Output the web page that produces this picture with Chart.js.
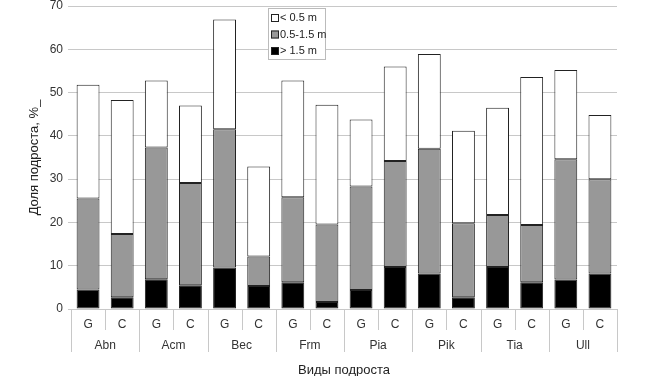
<!DOCTYPE html>
<html>
<head>
<meta charset="utf-8">
<script src="https://cdn.jsdelivr.net/npm/chart.js@4.4.1/dist/chart.umd.min.js"></script>
<style>
  html, body { margin: 0; padding: 0; background: #fff; }
  #wrap { width: 648px; height: 376px; }
</style>
</head>
<body>
<div id="wrap"><canvas id="chart" width="648" height="376"></canvas></div>
<script>
// ---- data ----
const species = ['Abn', 'Acm', 'Bec', 'Frm', 'Pia', 'Pik', 'Tia', 'Ull'];
const plots = ['G', 'C'];
const labels = species.flatMap(s => plots.map(p => p));

const high   = [4.5, 2.7, 6.9, 5.5, 9.6, 5.3, 6.2, 1.6, 4.4, 9.7, 8.2, 2.7, 9.7, 6.2, 6.8, 8.2];   // > 1.5 m
const middle = [21.0, 14.6, 30.4, 23.6, 31.9, 6.8, 19.6, 17.9, 23.9, 24.5, 28.8, 17.1, 12.0, 13.2, 27.8, 21.8]; // 0.5-1.5 m
const low    = [26.3, 31.0, 15.5, 17.9, 25.4, 20.8, 27.0, 27.7, 15.5, 21.8, 21.9, 21.4, 24.8, 34.2, 20.6, 14.8]; // < 0.5 m

const yTicks = [0, 10, 20, 30, 40, 50, 60, 70];

const FONT = 'Arial, "Liberation Sans", sans-serif';
const LINE = '#c8c8c8';

// подписи оси X в два уровня + легенда
const extras = {
  id: 'extras',
  afterDraw(chart) {
    const ctx = chart.ctx;
    const x = chart.scales.x;
    const area = chart.chartArea;
    const half = (x.getPixelForValue(1) - x.getPixelForValue(0)) / 2;
    ctx.save();
    ctx.strokeStyle = LINE;
    ctx.lineWidth = 1;
    for (let i = 0; i <= labels.length; i++) {
      const bx = Math.round(x.getPixelForValue(i) - half) + 0.5;
      const end = i % 2 === 0 ? area.bottom + 43 : area.bottom + 21;
      ctx.beginPath();
      ctx.moveTo(bx, area.bottom);
      ctx.lineTo(bx, end);
      ctx.stroke();
    }
    ctx.fillStyle = '#333';
    ctx.textAlign = 'center';
    ctx.textBaseline = 'middle';
    ctx.font = '12px ' + FONT;
    labels.forEach((l, i) => ctx.fillText(l, x.getPixelForValue(i), area.bottom + 16));
    species.forEach((s, i) => {
      const cx = (x.getPixelForValue(i * 2) + x.getPixelForValue(i * 2 + 1)) / 2;
      ctx.fillText(s, cx, area.bottom + 37);
    });

    // legend box
    const lx = 268, ly = 8, lw = 57, lh = 51;
    ctx.fillStyle = '#fff';
    ctx.fillRect(lx, ly, lw, lh);
    ctx.strokeStyle = '#bbb';
    ctx.strokeRect(lx + 0.5, ly + 0.5, lw, lh);
    ctx.font = '11px ' + FONT;
    ctx.textAlign = 'left';
    const items = chart.data.datasets.slice().reverse();
    items.forEach((ds, i) => {
      const cy = ly + 10 + i * 16.5;
      ctx.fillStyle = ds.backgroundColor;
      ctx.fillRect(lx + 3, cy - 4, 8, 8);
      ctx.strokeStyle = '#222';
      ctx.strokeRect(lx + 3.5, cy - 3.5, 7, 7);
      ctx.fillStyle = '#222';
      ctx.fillText(ds.label, lx + 12, cy);
    });
    ctx.restore();
  }
};

const mk = (label, data, color) => ({
  label, data,
  backgroundColor: color,
  borderColor: '#222',
  borderWidth: 1,
  borderSkipped: false,
  barPercentage: 0.67,
  categoryPercentage: 1
});

new Chart(document.getElementById('chart'), {
  type: 'bar',
  data: {
    labels,
    datasets: [
      mk('> 1.5 m', high, '#000000'),
      mk('0.5-1.5 m', middle, '#989898'),
      mk('< 0.5 m', low, '#ffffff')
    ]
  },
  options: {
    responsive: false,
    animation: false,
    layout: { padding: { left: 27, right: 31, top: 0, bottom: 0 } },
    plugins: {
      legend: { display: false },
      tooltip: { enabled: false }
    },
    scales: {
      x: {
        stacked: true,
        grid: { display: false },
        border: { display: true, color: LINE },
        ticks: { display: false },
        title: {
          display: true,
          text: 'Виды подроста',
          color: '#222',
          font: { family: FONT, size: 13 },
          padding: { top: 0, bottom: -2 }
        },
        afterFit: s => { s.height = 67; }
      },
      y: {
        stacked: true,
        min: 0,
        max: 70,
        afterBuildTicks: s => { s.ticks = yTicks.map(v => ({ value: v })); },
        grid: { color: LINE, tickLength: 3 },
        border: { display: false },
        ticks: {
          color: '#333',
          padding: 5,
          font: { family: FONT, size: 12 }
        },
        title: {
          display: true,
          text: 'Доля подроста, %_',
          color: '#222',
          font: { family: FONT, size: 13 },
          padding: 0
        },
        afterFit: s => { s.width = 44; s.paddingTop = 6; s.paddingBottom = 0; }
      }
    }
  },
  plugins: [extras]
});
</script>
</body>
</html>
